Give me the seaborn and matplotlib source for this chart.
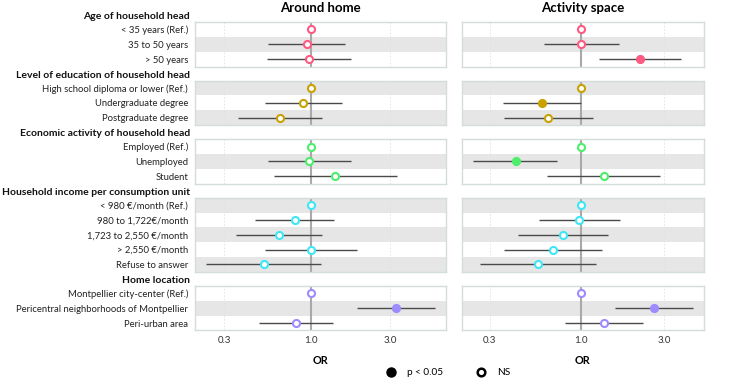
import numpy as np
import pandas as pd
import matplotlib.pyplot as plt
import seaborn as sns

# ---- Data ----
groups = ["Age of household head",
          "Level of education of household head",
          "Economic activity of household head",
          "Household income per consumption unit",
          "Home location"]
group_sizes = [3, 3, 3, 5, 3]
labels = ["< 35 years (Ref.)", "35 to 50 years", "> 50 years",
          "High school diploma or lower (Ref.)", "Undergraduate degree", "Postgraduate degree",
          "Employed (Ref.)", "Unemployed", "Student",
          "< 980 €/month (Ref.)", "980 to 1,722€/month", "1,723 to 2,550 €/month",
          "> 2,550 €/month", "Refuse to answer",
          "Montpellier city-center (Ref.)", "Pericentral neighborhoods of Montpellier",
          "Peri-urban area"]
group_colors = ["#FF5A82", "#C8A200", "#4DEE6B", "#40E6F5", "#9C8CFF"]

nan = np.nan
home_or = [1.0, 0.95, 0.97, 1.0, 0.90, 0.65, 1.0, 0.97, 1.40, 1.0, 0.80, 0.64, 1.0, 0.52, 1.0, 3.23, 0.81]
home_lo = [nan, 0.555, 0.544, nan, 0.53, 0.364, nan, 0.55, 0.603, nan, 0.461, 0.353, 0.527, 0.235, nan, 1.88, 0.485]
home_hi = [nan, 1.61, 1.73, nan, 1.545, 1.16, nan, 1.74, 3.27, nan, 1.38, 1.16, 1.89, 1.14, nan, 5.53, 1.36]
home_sig = [0, 0, 0, 0, 0, 0, 0, 0, 0, 0, 0, 0, 0, 0, 0, 1, 0]

act_or = [1.0, 1.0, 2.16, 1.0, 0.595, 0.65, 1.0, 0.422, 1.345, 1.0, 0.978, 0.787, 0.69, 0.567, 1.0, 2.61, 1.35]
act_lo = [nan, 0.614, 1.27, nan, 0.356, 0.362, nan, 0.241, 0.638, nan, 0.572, 0.435, 0.362, 0.264, nan, 1.56, 0.808]
act_hi = [nan, 1.64, 3.73, nan, 0.998, 1.165, nan, 0.728, 2.84, nan, 1.68, 1.42, 1.31, 1.22, nan, 4.37, 2.26]
act_sig = [0, 0, 1, 0, 1, 0, 0, 1, 0, 0, 0, 0, 0, 0, 0, 1, 0]

titles = ["Around home", "Activity space"]

group_col = np.repeat(np.arange(len(groups)), group_sizes)
frames = []
for title, o, lo, hi, sig in [(titles[0], home_or, home_lo, home_hi, home_sig),
                              (titles[1], act_or, act_lo, act_hi, act_sig)]:
    frames.append(pd.DataFrame({"model": title, "label": labels, "group": group_col,
                                "row": np.arange(len(labels)),
                                "OR": o, "lo": lo, "hi": hi, "sig": sig}))
df = pd.concat(frames, ignore_index=True)

# ---- Layout (pixels) ----
plt.rcParams['font.family'] = ['Lato', 'DejaVu Sans']
W, H = 745, 380
fig = plt.figure(figsize=(W / 100, H / 100), dpi=100)
row_h = 14.85
gap = 14
top0 = 22
col_x = [(195, 446), (462, 704)]
band = "#E6E6E6"
border = "#D5DCDC"

for c, title in enumerate(titles):
    sub_all = df[df.model == title]
    vals = np.log10(pd.concat([sub_all.OR, sub_all.lo, sub_all.hi]).dropna())
    span = vals.max() - vals.min()
    xlim = (10 ** (vals.min() - 0.05 * span), 10 ** (vals.max() + 0.05 * span))
    x0, x1 = col_x[c]
    start = 0
    for g, n in enumerate(group_sizes):
        top = top0 + start * row_h + g * gap
        h = n * row_h
        ax = fig.add_axes([x0 / W, 1 - (top + h) / H, (x1 - x0) / W, h / H])
        sub = sub_all[sub_all.group == g].copy()
        sub["y"] = sub.row - start
        ax.set_xscale("log")
        ax.set_xlim(xlim)
        ax.set_ylim(n - 0.5, -0.5)
        for _, r in sub.iterrows():
            if r.row % 2 == 1:
                ax.axhspan(r.y - 0.5, r.y + 0.5, color=band, zorder=0, lw=0)
        for xv in [0.3, 3.0]:
            ax.axvline(xv, color="#E2E2E2", lw=0.6, ls=(0, (2, 2)), zorder=0.5)
        ax.axvline(1.0, color="#A9A9A9", lw=1.5, zorder=1)
        ax.hlines(sub.y, sub.lo, sub.hi, color="#4A4A4A", lw=1.0, zorder=2)
        col = group_colors[g]
        sig = sub[sub.sig == 1]
        ns = sub[sub.sig == 0]
        if len(sig):
            sns.scatterplot(data=sig, x="OR", y="y", ax=ax, color=col, edgecolor=col,
                            s=26, linewidth=1.5, zorder=3, legend=False)
        if len(ns):
            sns.scatterplot(data=ns, x="OR", y="y", ax=ax, color="white", edgecolor=col,
                            s=26, linewidth=1.5, zorder=3, legend=False)
        ax.set_xlabel("")
        ax.set_ylabel("")
        ax.set_yticks(range(n))
        if c == 0:
            ax.set_yticklabels(sub.label, fontsize=6.8, color="#222222")
            fig.text(190 / W, 1 - (top - 1) / H, groups[g], ha="right", va="bottom",
                     fontsize=7.5, fontweight="bold", color="#111111")
        else:
            ax.set_yticklabels([])
        ax.tick_params(axis="y", length=0, pad=5)
        ax.set_xticks([0.3, 1.0, 3.0])
        ax.xaxis.set_minor_locator(plt.NullLocator())
        if g == len(group_sizes) - 1:
            ax.set_xticklabels(["0.3", "1.0", "3.0"], fontsize=7, color="#333333")
            ax.set_xlabel("OR", fontsize=7.8, fontweight="bold", labelpad=7)
        else:
            ax.set_xticklabels([])
        ax.tick_params(axis="x", length=0, pad=4)
        for sp in ax.spines.values():
            sp.set_color(border)
            sp.set_linewidth(1.0)
        if g == 0:
            ax.set_title(title, fontsize=9.5, fontweight="bold", pad=7)
        start += n

# ---- Legend ----
h1 = plt.Line2D([], [], marker="o", ls="", color="black", markersize=6.5)
h2 = plt.Line2D([], [], marker="o", ls="", color="black", markerfacecolor="white",
                markeredgewidth=1.8, markersize=5.5)
fig.legend([h1, h2], ["p < 0.05", "NS"], loc="center", ncol=2, frameon=False,
           bbox_to_anchor=(446 / W, 1 - 372.5 / H), fontsize=7.2,
           handletextpad=0.6, columnspacing=2.8)

plt.savefig("out.png", dpi=100)
